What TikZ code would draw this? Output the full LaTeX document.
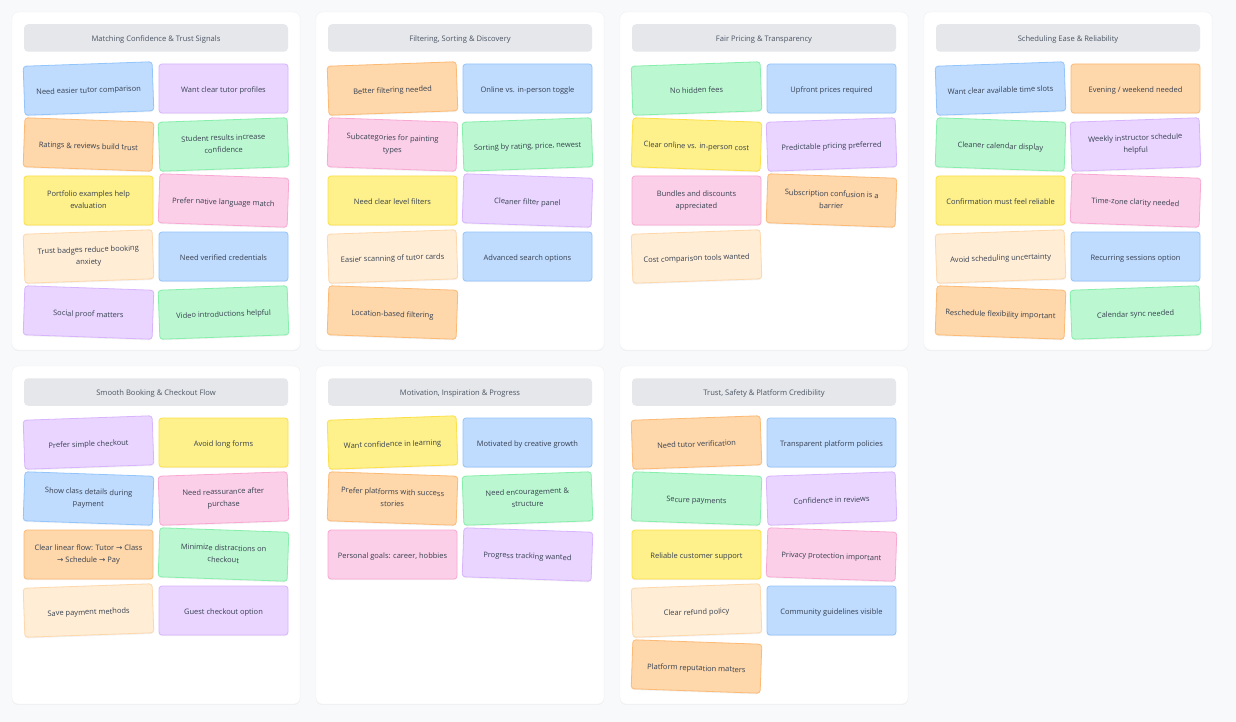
\documentclass[tikz,border=0pt]{standalone}
\usepackage{fontspec}
\setmainfont{Open Sans}
\newfontfamily\arrowfont{DejaVu Sans}
\usetikzlibrary{shadows}
\definecolor{pagebg}{HTML}{F8F9FB}
\definecolor{headgray}{HTML}{E5E7EB}
\definecolor{inkgray}{HTML}{374151}
\definecolor{headink}{HTML}{4B5563}
\definecolor{nblue}{HTML}{BFDBFE}\definecolor{nblueline}{HTML}{93C5FD}
\definecolor{npurple}{HTML}{E9D5FF}\definecolor{npurpleline}{HTML}{D8B4FE}
\definecolor{norange}{HTML}{FED7AA}\definecolor{norangeline}{HTML}{FDBA74}
\definecolor{ngreen}{HTML}{BBF7D0}\definecolor{ngreenline}{HTML}{86EFAC}
\definecolor{nyellow}{HTML}{FEF08A}\definecolor{nyellowline}{HTML}{FDE047}
\definecolor{npink}{HTML}{FBCFE8}\definecolor{npinkline}{HTML}{F9A8D4}
\definecolor{ncream}{HTML}{FFEDD5}\definecolor{ncreamline}{HTML}{FED7AA}
\newcommand{\flowarrow}{{\arrowfont\char"2192}}
\newcommand{\notestrut}{\rule[-1.6pt]{0pt}{12pt}}
\newcommand{\headstrut}{\rule[-2.6pt]{0pt}{12pt}}

\begin{document}
\begin{tikzpicture}[x=1pt,y=-1pt,font=\fontsize{7.5}{12}\selectfont,text=inkgray,
    every node/.style={align=center},
    panel/.style={draw=black!6,fill=white,rounded corners=6pt,minimum width=288pt,minimum height=338pt,
      drop shadow={shadow xshift=0pt,shadow yshift=-1pt,opacity=.06}},
    head/.style={fill=headgray,text=headink,font=\fontsize{7.6}{12}\selectfont,rounded corners=4pt,
      minimum width=264pt,minimum height=27.5pt,execute at begin node=\headstrut,execute at end node=\headstrut},
    note/.style={line width=.8pt,rounded corners=3pt,minimum width=129pt,minimum height=49pt,inner sep=2pt,
      execute at begin node=\notestrut,execute at end node=\notestrut,
      drop shadow={shadow xshift=0pt,shadow yshift=-1.2pt,opacity=.1}},
    sblue/.style={note,fill=nblue,draw=nblueline},
    spurple/.style={note,fill=npurple,draw=npurpleline},
    sorange/.style={note,fill=norange,draw=norangeline},
    sgreen/.style={note,fill=ngreen,draw=ngreenline},
    syellow/.style={note,fill=nyellow,draw=nyellowline},
    spink/.style={note,fill=npink,draw=npinkline},
    scream/.style={note,fill=ncream,draw=ncreamline},
    lift/.style={rotate=2},sink/.style={rotate=-2}]
  \fill[pagebg] (0,0) rectangle (1236,722);
  \useasboundingbox (0,0) rectangle (1236,722);
  % panel 1
  \begin{scope}[shift={(12,12)}]
    \node[panel] (p1) at (144,169) {};
    \node[head] (h1) at (144,26) {Matching Confidence \& Trust Signals};
    \node[sblue,lift] (n1-1) at (76.5,76.5) {Need easier tutor comparison};
    \node[spurple] (n1-2) at (211.5,76.5) {Want clear tutor profiles};
    \node[sorange,sink] (n1-3) at (76.5,132.5) {Ratings \& reviews build trust};
    \node[sgreen,lift] (n1-4) at (211.5,132.5) {Student results increase\\confidence};
    \node[syellow] (n1-5) at (76.5,188.5) {Portfolio examples help\\evaluation};
    \node[spink,sink] (n1-6) at (211.5,188.5) {Prefer native language match};
    \node[scream,lift] (n1-7) at (76.5,244.5) {Trust badges reduce booking\\anxiety};
    \node[sblue] (n1-8) at (211.5,244.5) {Need verified credentials};
    \node[spurple,sink] (n1-9) at (76.5,300.5) {Social proof matters};
    \node[sgreen,lift] (n1-10) at (211.5,300.5) {Video introductions helpful};
  \end{scope}
  % panel 2
  \begin{scope}[shift={(316,12)}]
    \node[panel] (p2) at (144,169) {};
    \node[head] (h2) at (144,26) {Filtering, Sorting \& Discovery};
    \node[sorange,lift] (n2-1) at (76.5,76.5) {Better filtering needed};
    \node[sblue] (n2-2) at (211.5,76.5) {Online vs. in-person toggle};
    \node[spink,sink] (n2-3) at (76.5,132.5) {Subcategories for painting\\types};
    \node[sgreen,lift] (n2-4) at (211.5,132.5) {Sorting by rating, price, newest};
    \node[syellow] (n2-5) at (76.5,188.5) {Need clear level filters};
    \node[spurple,sink] (n2-6) at (211.5,188.5) {Cleaner filter panel};
    \node[scream,lift] (n2-7) at (76.5,244.5) {Easier scanning of tutor cards};
    \node[sblue] (n2-8) at (211.5,244.5) {Advanced search options};
    \node[sorange,sink] (n2-9) at (76.5,300.5) {Location-based filtering};
  \end{scope}
  % panel 3
  \begin{scope}[shift={(620,12)}]
    \node[panel] (p3) at (144,169) {};
    \node[head] (h3) at (144,26) {Fair Pricing \& Transparency};
    \node[sgreen,lift] (n3-1) at (76.5,76.5) {No hidden fees};
    \node[sblue] (n3-2) at (211.5,76.5) {Upfront prices required};
    \node[syellow,sink] (n3-3) at (76.5,132.5) {Clear online vs. in-person cost};
    \node[spurple,lift] (n3-4) at (211.5,132.5) {Predictable pricing preferred};
    \node[spink] (n3-5) at (76.5,188.5) {Bundles and discounts\\appreciated};
    \node[sorange,sink] (n3-6) at (211.5,188.5) {Subscription confusion is a\\barrier};
    \node[scream,lift] (n3-7) at (76.5,244.5) {Cost comparison tools wanted};
  \end{scope}
  % panel 4
  \begin{scope}[shift={(924,12)}]
    \node[panel] (p4) at (144,169) {};
    \node[head] (h4) at (144,26) {Scheduling Ease \& Reliability};
    \node[sblue,lift] (n4-1) at (76.5,76.5) {Want clear available time slots};
    \node[sorange] (n4-2) at (211.5,76.5) {Evening / weekend needed};
    \node[sgreen,sink] (n4-3) at (76.5,132.5) {Cleaner calendar display};
    \node[spurple,lift] (n4-4) at (211.5,132.5) {Weekly instructor schedule\\helpful};
    \node[syellow] (n4-5) at (76.5,188.5) {Confirmation must feel reliable};
    \node[spink,sink] (n4-6) at (211.5,188.5) {Time-zone clarity needed};
    \node[scream,lift] (n4-7) at (76.5,244.5) {Avoid scheduling uncertainty};
    \node[sblue] (n4-8) at (211.5,244.5) {Recurring sessions option};
    \node[sorange,sink] (n4-9) at (76.5,300.5) {Reschedule flexibility important};
    \node[sgreen,lift] (n4-10) at (211.5,300.5) {Calendar sync needed};
  \end{scope}
  % panel 5
  \begin{scope}[shift={(12,366)}]
    \node[panel] (p5) at (144,169) {};
    \node[head] (h5) at (144,26) {Smooth Booking \& Checkout Flow};
    \node[spurple,lift] (n5-1) at (76.5,76.5) {Prefer simple checkout};
    \node[syellow] (n5-2) at (211.5,76.5) {Avoid long forms};
    \node[sblue,sink] (n5-3) at (76.5,132.5) {Show class details during\\payment};
    \node[spink,lift] (n5-4) at (211.5,132.5) {Need reassurance after\\purchase};
    \node[sorange] (n5-5) at (76.5,188.5) {Clear linear flow: Tutor \flowarrow{} Class\\\flowarrow{} Schedule \flowarrow{} Pay};
    \node[sgreen,sink] (n5-6) at (211.5,188.5) {Minimize distractions on\\checkout};
    \node[scream,lift] (n5-7) at (76.5,244.5) {Save payment methods};
    \node[spurple] (n5-8) at (211.5,244.5) {Guest checkout option};
  \end{scope}
  % panel 6
  \begin{scope}[shift={(316,366)}]
    \node[panel] (p6) at (144,169) {};
    \node[head] (h6) at (144,26) {Motivation, Inspiration \& Progress};
    \node[syellow,lift] (n6-1) at (76.5,76.5) {Want confidence in learning};
    \node[sblue] (n6-2) at (211.5,76.5) {Motivated by creative growth};
    \node[sorange,sink] (n6-3) at (76.5,132.5) {Prefer platforms with success\\stories};
    \node[sgreen,lift] (n6-4) at (211.5,132.5) {Need encouragement \&\\structure};
    \node[spink] (n6-5) at (76.5,188.5) {Personal goals: career, hobbies};
    \node[spurple,sink] (n6-6) at (211.5,188.5) {Progress tracking wanted};
  \end{scope}
  % panel 7
  \begin{scope}[shift={(620,366)}]
    \node[panel] (p7) at (144,169) {};
    \node[head] (h7) at (144,26) {Trust, Safety \& Platform Credibility};
    \node[sorange,lift] (n7-1) at (76.5,76.5) {Need tutor verification};
    \node[sblue] (n7-2) at (211.5,76.5) {Transparent platform policies};
    \node[sgreen,sink] (n7-3) at (76.5,132.5) {Secure payments};
    \node[spurple,lift] (n7-4) at (211.5,132.5) {Confidence in reviews};
    \node[syellow] (n7-5) at (76.5,188.5) {Reliable customer support};
    \node[spink,sink] (n7-6) at (211.5,188.5) {Privacy protection important};
    \node[scream,lift] (n7-7) at (76.5,244.5) {Clear refund policy};
    \node[sblue] (n7-8) at (211.5,244.5) {Community guidelines visible};
    \node[sorange,sink] (n7-9) at (76.5,300.5) {Platform reputation matters};
  \end{scope}
\end{tikzpicture}
\end{document}
